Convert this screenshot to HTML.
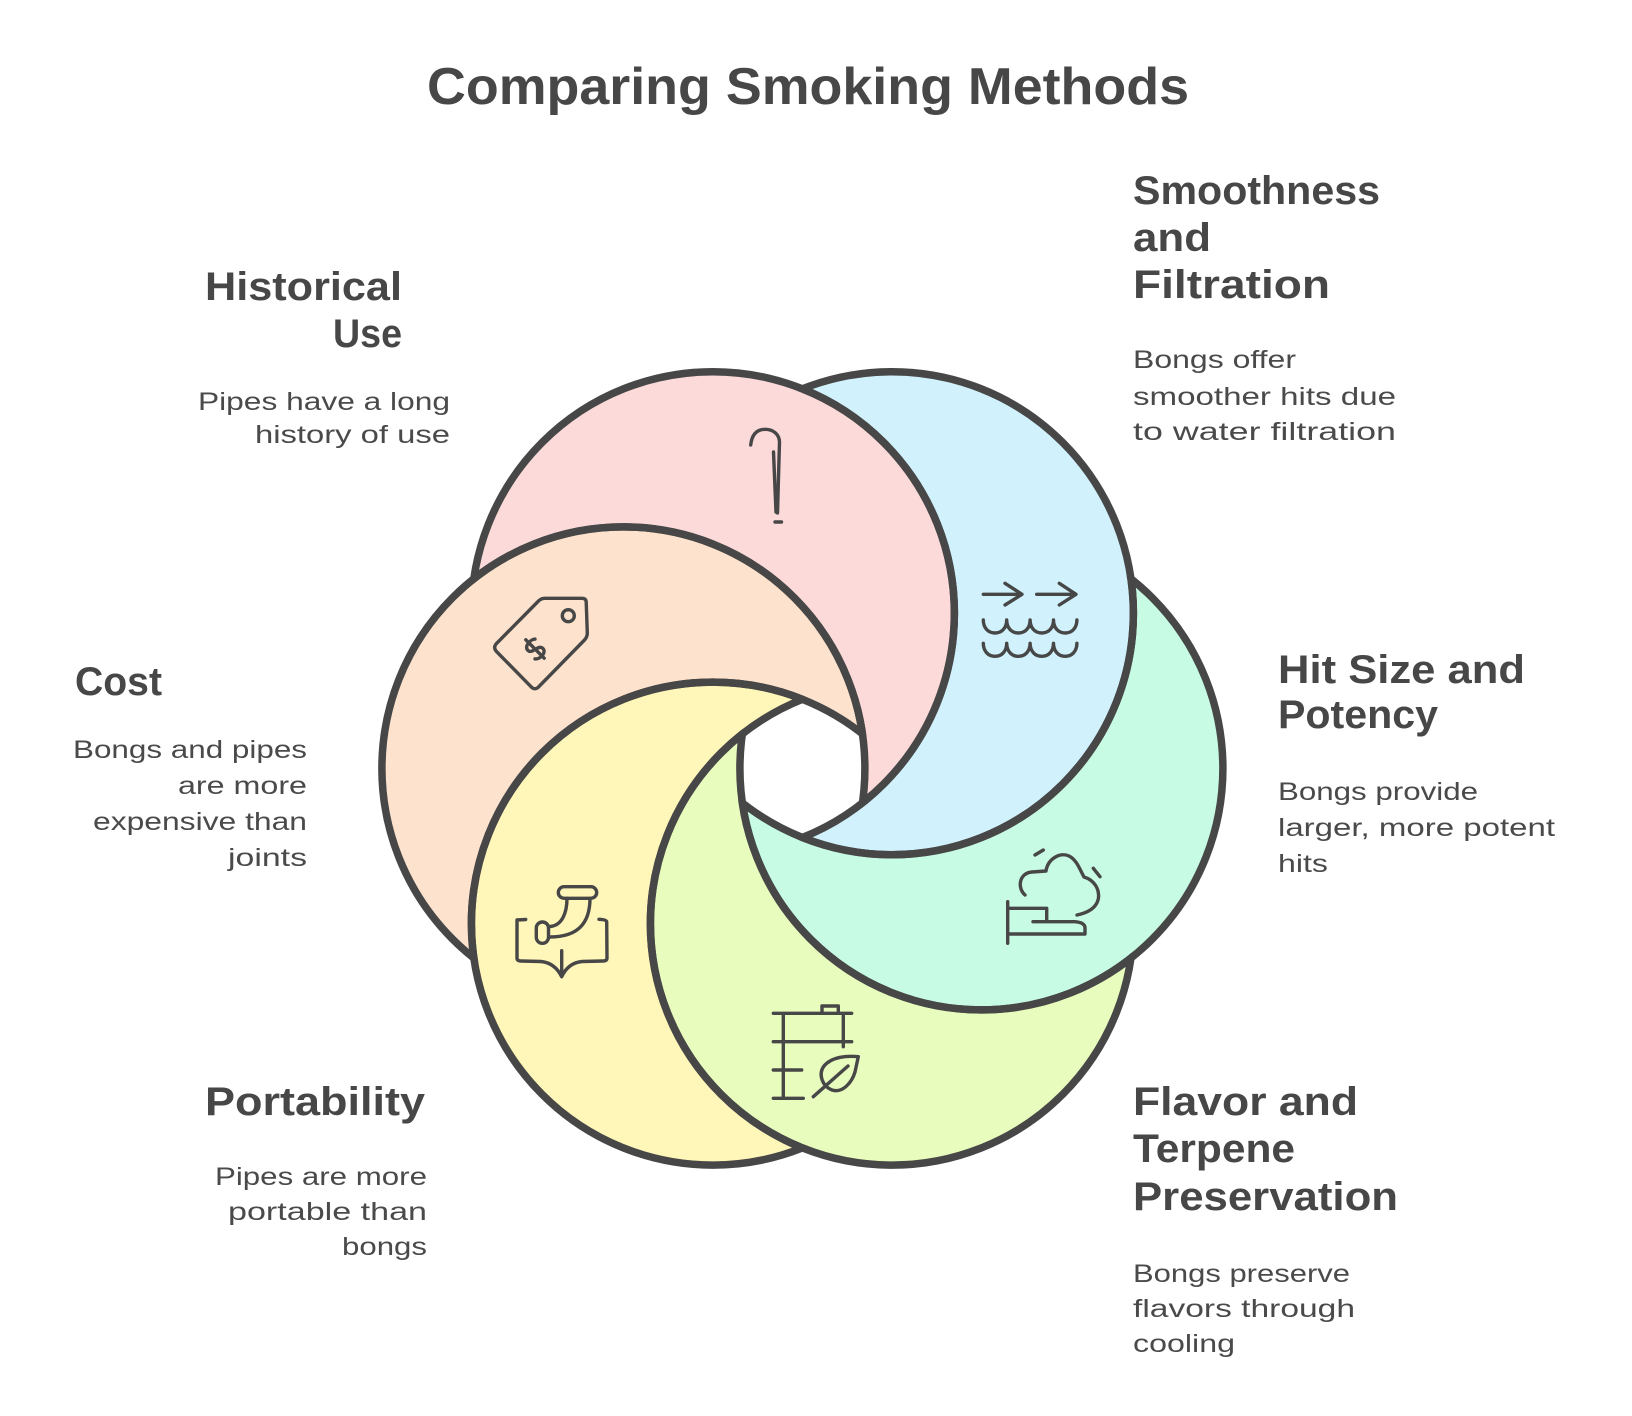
<!DOCTYPE html>
<html>
<head>
<meta charset="utf-8">
<style>
  html, body { margin: 0; padding: 0; background: #ffffff; }
  svg { display: block; }
  .h { font-family: "Liberation Sans", "DejaVu Sans", sans-serif; font-weight: bold; font-size: 40px; fill: #474747; }
  .b { font-family: "Liberation Sans", "DejaVu Sans", sans-serif; font-size: 25px; fill: #4a4a4a; }
  .t { font-family: "Liberation Sans", "DejaVu Sans", sans-serif; font-weight: bold; font-size: 52px; fill: #474747; }
  .ic { fill: none; stroke: #474747; stroke-width: 3.4; stroke-linecap: round; stroke-linejoin: round; }
</style>
</head>
<body>
<svg width="1632" height="1416" viewBox="0 0 1632 1416" xmlns="http://www.w3.org/2000/svg">
  <defs>
    <mask id="mPeach" maskUnits="userSpaceOnUse" x="0" y="0" width="1632" height="1416">
      <rect x="0" y="0" width="1632" height="1416" fill="#fff"/>
      <circle cx="712.9" cy="923.6" r="241.5" fill="#000"/>
    </mask>
    <mask id="mPink" maskUnits="userSpaceOnUse" x="0" y="0" width="1632" height="1416">
      <rect x="0" y="0" width="1632" height="1416" fill="#fff"/>
      <circle cx="623.4" cy="768.4" r="241.5" fill="#000"/>
    </mask>
    <mask id="mBlue" maskUnits="userSpaceOnUse" x="0" y="0" width="1632" height="1416">
      <rect x="0" y="0" width="1632" height="1416" fill="#fff"/>
      <circle cx="712.9" cy="613.2" r="241.5" fill="#000"/>
    </mask>
    <mask id="mGreen" maskUnits="userSpaceOnUse" x="0" y="0" width="1632" height="1416">
      <rect x="0" y="0" width="1632" height="1416" fill="#fff"/>
      <circle cx="891.9" cy="613.2" r="241.5" fill="#000"/>
    </mask>
    <mask id="mLime" maskUnits="userSpaceOnUse" x="0" y="0" width="1632" height="1416">
      <rect x="0" y="0" width="1632" height="1416" fill="#fff"/>
      <circle cx="981.4" cy="768.4" r="241.5" fill="#000"/>
    </mask>
    <mask id="mYellow" maskUnits="userSpaceOnUse" x="0" y="0" width="1632" height="1416">
      <rect x="0" y="0" width="1632" height="1416" fill="#fff"/>
      <circle cx="891.9" cy="923.6" r="241.5" fill="#000"/>
    </mask>
    <clipPath id="cPeach"><circle cx="623.4" cy="768.4" r="241.5"/></clipPath>
    <clipPath id="cPink"><circle cx="712.9" cy="613.2" r="241.5"/></clipPath>
    <clipPath id="cBlue"><circle cx="891.9" cy="613.2" r="241.5"/></clipPath>
    <clipPath id="cGreen"><circle cx="981.4" cy="768.4" r="241.5"/></clipPath>
    <clipPath id="cLime"><circle cx="891.9" cy="923.6" r="241.5"/></clipPath>
    <clipPath id="cYellow"><circle cx="712.9" cy="923.6" r="241.5"/></clipPath>
  </defs>

  <!-- Title -->
  <text class="t" x="427" y="104" textLength="762" lengthAdjust="spacingAndGlyphs">Comparing Smoking Methods</text>

  <!-- Fills -->
  <circle cx="623.4" cy="768.4" r="241.5" fill="#fde3cd" mask="url(#mPeach)"/>
  <circle cx="712.9" cy="613.2" r="241.5" fill="#fddada" mask="url(#mPink)"/>
  <circle cx="891.9" cy="613.2" r="241.5" fill="#d1f2fc" mask="url(#mBlue)"/>
  <circle cx="981.4" cy="768.4" r="241.5" fill="#c8fbe3" mask="url(#mGreen)"/>
  <circle cx="891.9" cy="923.6" r="241.5" fill="#e8fcbd" mask="url(#mLime)"/>
  <circle cx="712.9" cy="923.6" r="241.5" fill="#fff6b9" mask="url(#mYellow)"/>

  <!-- Outlines: crescent boundaries -->
  <g fill="none" stroke="#474747" stroke-width="7.5">
    <circle cx="623.4" cy="768.4" r="241.5" mask="url(#mPeach)"/>
    <circle cx="623.4" cy="768.4" r="241.5" clip-path="url(#cPink)"/>
    <circle cx="712.9" cy="613.2" r="241.5" mask="url(#mPink)"/>
    <circle cx="712.9" cy="613.2" r="241.5" clip-path="url(#cBlue)"/>
    <circle cx="891.9" cy="613.2" r="241.5" mask="url(#mBlue)"/>
    <circle cx="891.9" cy="613.2" r="241.5" clip-path="url(#cGreen)"/>
    <circle cx="981.4" cy="768.4" r="241.5" mask="url(#mGreen)"/>
    <circle cx="981.4" cy="768.4" r="241.5" clip-path="url(#cLime)"/>
    <circle cx="891.9" cy="923.6" r="241.5" mask="url(#mLime)"/>
    <circle cx="891.9" cy="923.6" r="241.5" clip-path="url(#cYellow)"/>
    <circle cx="712.9" cy="923.6" r="241.5" mask="url(#mYellow)"/>
    <circle cx="712.9" cy="923.6" r="241.5" clip-path="url(#cPeach)"/>
  </g>

  <!-- Pink icon: hook -->
  <path class="ic" d="M750.7,445 C752,433 758,429.3 765,429.3 C773,429.3 779.3,434 779.5,442 L777.5,513 M773.5,452 L776,512"/>
  <path class="ic" d="M775,522 L781.5,522" stroke-width="4"/>

  <!-- Peach icon: price tag -->
  <path class="ic" d="M496,644 L539,600.5 Q541.5,598.3 545,598.3 L582,598.3 Q586,598.3 586.2,602 L587.3,633 Q587.3,637 584.5,640 L538,687.5 Q535,690 532,687.7 L496,651 Q493.3,647.5 496,644 Z"/>
  <circle class="ic" cx="568.3" cy="615.7" r="6"/>
  <g transform="translate(535,649) rotate(-45)">
    <path class="ic" d="M7,-7 C4,-10 -6,-10 -6,-4 C-6,2 6,-1 6,5 C6,11 -4,11 -7,7 M0,-13 L0,13"/>
  </g>

  <!-- Blue icon: arrows and waves -->
  <path class="ic" d="M983.3,594.3 L1021.7,594.3 M1005,583.3 L1022,594.3 L1005,605 M1036.7,594.3 L1075,594.3 M1059.3,583.3 L1076,594.3 L1059.3,605"/>
  <path class="ic" d="M983.3,620 c0,8 5,13 11.7,13 s11.7,-5 11.7,-13 c0,8 5,13 11.7,13 s11.7,-5 11.7,-13 c0,8 5,13 11.7,13 s11.7,-5 11.7,-13 c0,8 5,13 11.7,13 s11.7,-5 11.7,-13"/>
  <path class="ic" d="M983.3,643.3 c0,8 5,13 11.7,13 s11.7,-5 11.7,-13 c0,8 5,13 11.7,13 s11.7,-5 11.7,-13 c0,8 5,13 11.7,13 s11.7,-5 11.7,-13 c0,8 5,13 11.7,13 s11.7,-5 11.7,-13"/>

  <!-- Green icon: pipe with smoke -->
  <path class="ic" d="M1007.7,901.7 L1007.7,943.3" stroke-width="4"/>
  <path class="ic" d="M1010,908.3 L1046.7,908.3 L1046.7,921.7 M1033,921.7 L1075,921.7 Q1085,922.5 1085,928 L1085,934 L1010,934"/>
  <path class="ic" d="M1025,895 C1017,888 1019,873 1032,872 L1046,871 C1048,858 1061,852 1069,856 C1077,860 1080,870 1084,877 C1094,880 1100,889 1098.3,899 C1096.5,907 1089,912.5 1077,915"/>
  <path class="ic" d="M1035,855 L1043.3,850 M1093.3,868.3 L1100,876.7"/>

  <!-- Yellow icon: pipe -->
  <rect class="ic" x="558.3" y="886.7" width="38.4" height="11.6" rx="5.8"/>
  <path class="ic" d="M590,898.3 C590,925 576,937 550,937 M567,898.3 C567,913 562,925.5 550,926.5"/>
  <rect class="ic" x="536.3" y="922" width="12.2" height="21.3" rx="6"/>
  <path class="ic" d="M525.7,919.5 L517,920 L517,958 Q517,961 521,961 L541,961.5 Q555,963 561.7,976.7 Q568,963 582,961.5 L603,961 Q607,961 607,958 L606.7,922 Q606.7,919.5 599,919.3 M561.7,950.7 L561.7,976"/>

  <!-- Lime icon: jar/can with leaf -->
  <path class="ic" d="M773.3,1013.3 L851.7,1013.3 M773.3,1041.7 L851.7,1041.7 M773.3,1070 L801.7,1070 M773.3,1098.3 L803.3,1098.3 M783.3,1013.3 L783.3,1098.3 M843.3,1013.3 L843.3,1046.7"/>
  <path class="ic" d="M822,1013 L822,1006 L838.3,1006 L838.3,1013"/>
  <path class="ic" d="M858.3,1056.7 C848,1055.5 832,1056.5 824,1066 C818,1074 822,1086 832,1090 C843,1093.5 852,1082 855,1072 Z M813.3,1096.7 L848,1066"/>

  <!-- Headings -->
  <text class="h" x="1133" y="204" textLength="247" lengthAdjust="spacingAndGlyphs">Smoothness</text>
  <text class="h" x="1133" y="251" textLength="78" lengthAdjust="spacingAndGlyphs">and</text>
  <text class="h" x="1133" y="298" textLength="197" lengthAdjust="spacingAndGlyphs">Filtration</text>

  <text class="h" x="205" y="300" textLength="197" lengthAdjust="spacingAndGlyphs">Historical</text>
  <text class="h" x="333" y="347" textLength="69" lengthAdjust="spacingAndGlyphs">Use</text>

  <text class="h" x="75" y="695" textLength="87" lengthAdjust="spacingAndGlyphs">Cost</text>

  <text class="h" x="1278" y="683" textLength="247" lengthAdjust="spacingAndGlyphs">Hit Size and</text>
  <text class="h" x="1278" y="728" textLength="160" lengthAdjust="spacingAndGlyphs">Potency</text>

  <text class="h" x="205" y="1115" textLength="220" lengthAdjust="spacingAndGlyphs">Portability</text>

  <text class="h" x="1133" y="1115" textLength="225" lengthAdjust="spacingAndGlyphs">Flavor and</text>
  <text class="h" x="1133" y="1162" textLength="162" lengthAdjust="spacingAndGlyphs">Terpene</text>
  <text class="h" x="1133" y="1210" textLength="265" lengthAdjust="spacingAndGlyphs">Preservation</text>

  <!-- Descriptions -->
  <text class="b" x="1133" y="368" textLength="163" lengthAdjust="spacingAndGlyphs">Bongs offer</text>
  <text class="b" x="1133" y="405" textLength="263" lengthAdjust="spacingAndGlyphs">smoother hits due</text>
  <text class="b" x="1133" y="440" textLength="263" lengthAdjust="spacingAndGlyphs">to water filtration</text>

  <text class="b" x="198" y="410" textLength="252" lengthAdjust="spacingAndGlyphs">Pipes have a long</text>
  <text class="b" x="255" y="443" textLength="195" lengthAdjust="spacingAndGlyphs">history of use</text>

  <text class="b" x="73" y="758" textLength="234" lengthAdjust="spacingAndGlyphs">Bongs and pipes</text>
  <text class="b" x="178" y="794" textLength="129" lengthAdjust="spacingAndGlyphs">are more</text>
  <text class="b" x="93" y="830" textLength="214" lengthAdjust="spacingAndGlyphs">expensive than</text>
  <text class="b" x="228" y="866" textLength="79" lengthAdjust="spacingAndGlyphs">joints</text>

  <text class="b" x="1278" y="800" textLength="200" lengthAdjust="spacingAndGlyphs">Bongs provide</text>
  <text class="b" x="1278" y="836" textLength="277" lengthAdjust="spacingAndGlyphs">larger, more potent</text>
  <text class="b" x="1278" y="872" textLength="50" lengthAdjust="spacingAndGlyphs">hits</text>

  <text class="b" x="215" y="1185" textLength="212" lengthAdjust="spacingAndGlyphs">Pipes are more</text>
  <text class="b" x="228" y="1220" textLength="199" lengthAdjust="spacingAndGlyphs">portable than</text>
  <text class="b" x="342" y="1255" textLength="85" lengthAdjust="spacingAndGlyphs">bongs</text>

  <text class="b" x="1133" y="1282" textLength="217" lengthAdjust="spacingAndGlyphs">Bongs preserve</text>
  <text class="b" x="1133" y="1317" textLength="222" lengthAdjust="spacingAndGlyphs">flavors through</text>
  <text class="b" x="1133" y="1352" textLength="102" lengthAdjust="spacingAndGlyphs">cooling</text>
</svg>
</body>
</html>
